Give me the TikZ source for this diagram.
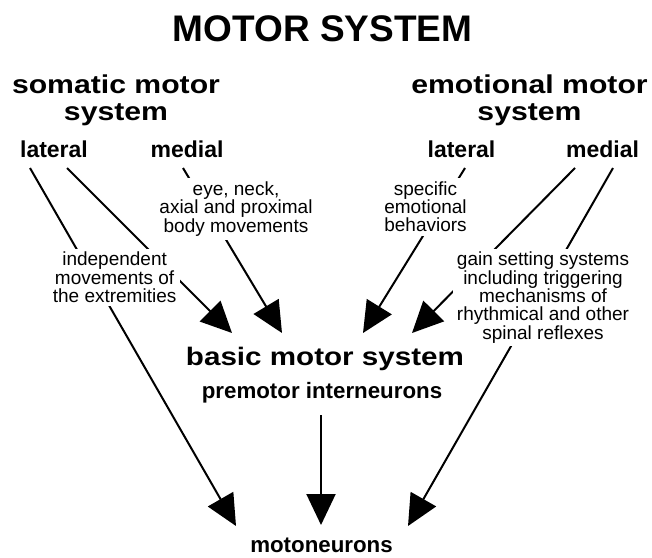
\documentclass[tikz,border=0pt]{standalone}
\usepackage{fontspec}
\setmainfont{Liberation Sans}
\newfontfamily\widesans[FakeStretch=1.17]{Liberation Sans}
\usetikzlibrary{arrows.meta}
\begin{document}
\begin{tikzpicture}[x=1pt,y=-1pt,
  conn/.style={line width=2pt, -{Triangle[length=31pt,width=29pt]}},
  headline/.style={font=\fontsize{37}{40}\selectfont\bfseries, inner sep=0pt, anchor=base},
  branch/.style={font=\widesans\fontsize{25.8}{27}\selectfont\bfseries, align=center, inner sep=0pt},
  side/.style={font=\fontsize{23}{26}\selectfont\bfseries, inner sep=0pt, anchor=base},
  level/.style={font=\widesans\fontsize{25.3}{28}\selectfont\bfseries, inner sep=0pt, anchor=base},
  sublevel/.style={font=\fontsize{22.3}{25}\selectfont\bfseries, inner sep=0pt, anchor=base},
  note/.style={font=\fontsize{19}{18.3}\selectfont, align=center, fill=white, inner sep=3.5pt}]
\useasboundingbox (0,0) rectangle (652,557);

% headings
\node[headline] (title) at (322.5,41.7) {MOTOR SYSTEM};
\node[branch] (somatic) at (116,100.5) {somatic motor\\system};
\node[branch] (emotional) at (529.5,100.5) {emotional motor\\system};
\node[side] (slat) at (54,157) {lateral};
\node[side] (smed) at (187,157) {medial};
\node[side] (elat) at (461.5,157) {lateral};
\node[side] (emed) at (602.5,157) {medial};

% targets
\node[level] (basic) at (325,365.7) {basic motor system};
\node[sublevel] (premotor) at (322,398.3) {premotor interneurons};
\node[sublevel] (moto) at (321.5,552.5) {motoneurons};

% connector ends
\coordinate (slat-out1) at (30,168);
\coordinate (slat-out2) at (67,168);
\coordinate (smed-out) at (183,168);
\coordinate (elat-out) at (465,168);
\coordinate (emed-out1) at (575,168);
\coordinate (emed-out2) at (613,168);
\coordinate (premotor-out) at (321,415);
\coordinate (basic-in1) at (232,333);
\coordinate (basic-in2) at (282,333);
\coordinate (basic-in3) at (363,333);
\coordinate (basic-in4) at (412,333);
\coordinate (moto-in1) at (236,526);
\coordinate (moto-in2) at (321,525);
\coordinate (moto-in3) at (408,526);

% pathways
\draw[conn] (slat-out1) -- (moto-in1);
\draw[conn] (slat-out2) -- (basic-in1);
\draw[conn] (smed-out) -- (basic-in2);
\draw[conn] (elat-out) -- (basic-in3);
\draw[conn] (emed-out1) -- (basic-in4);
\draw[conn] (emed-out2) -- (moto-in3);
\draw[conn] (premotor-out) -- (moto-in2);

% pathway labels, set over the lines
\node[note] (extrem) at (114.6,277.5) {independent\\movements of\\the extremities};
\node[note] (axial) at (236,209) {eye, neck,\\axial and proximal\\body movements};
\node[note] (specific) at (425.5,206.8) {specific\\emotional\\behaviors};
\node[note] (gain) at (543,297.5) {gain setting systems\\including triggering\\mechanisms of\\rhythmical and other\\spinal reflexes};
\end{tikzpicture}
\end{document}
